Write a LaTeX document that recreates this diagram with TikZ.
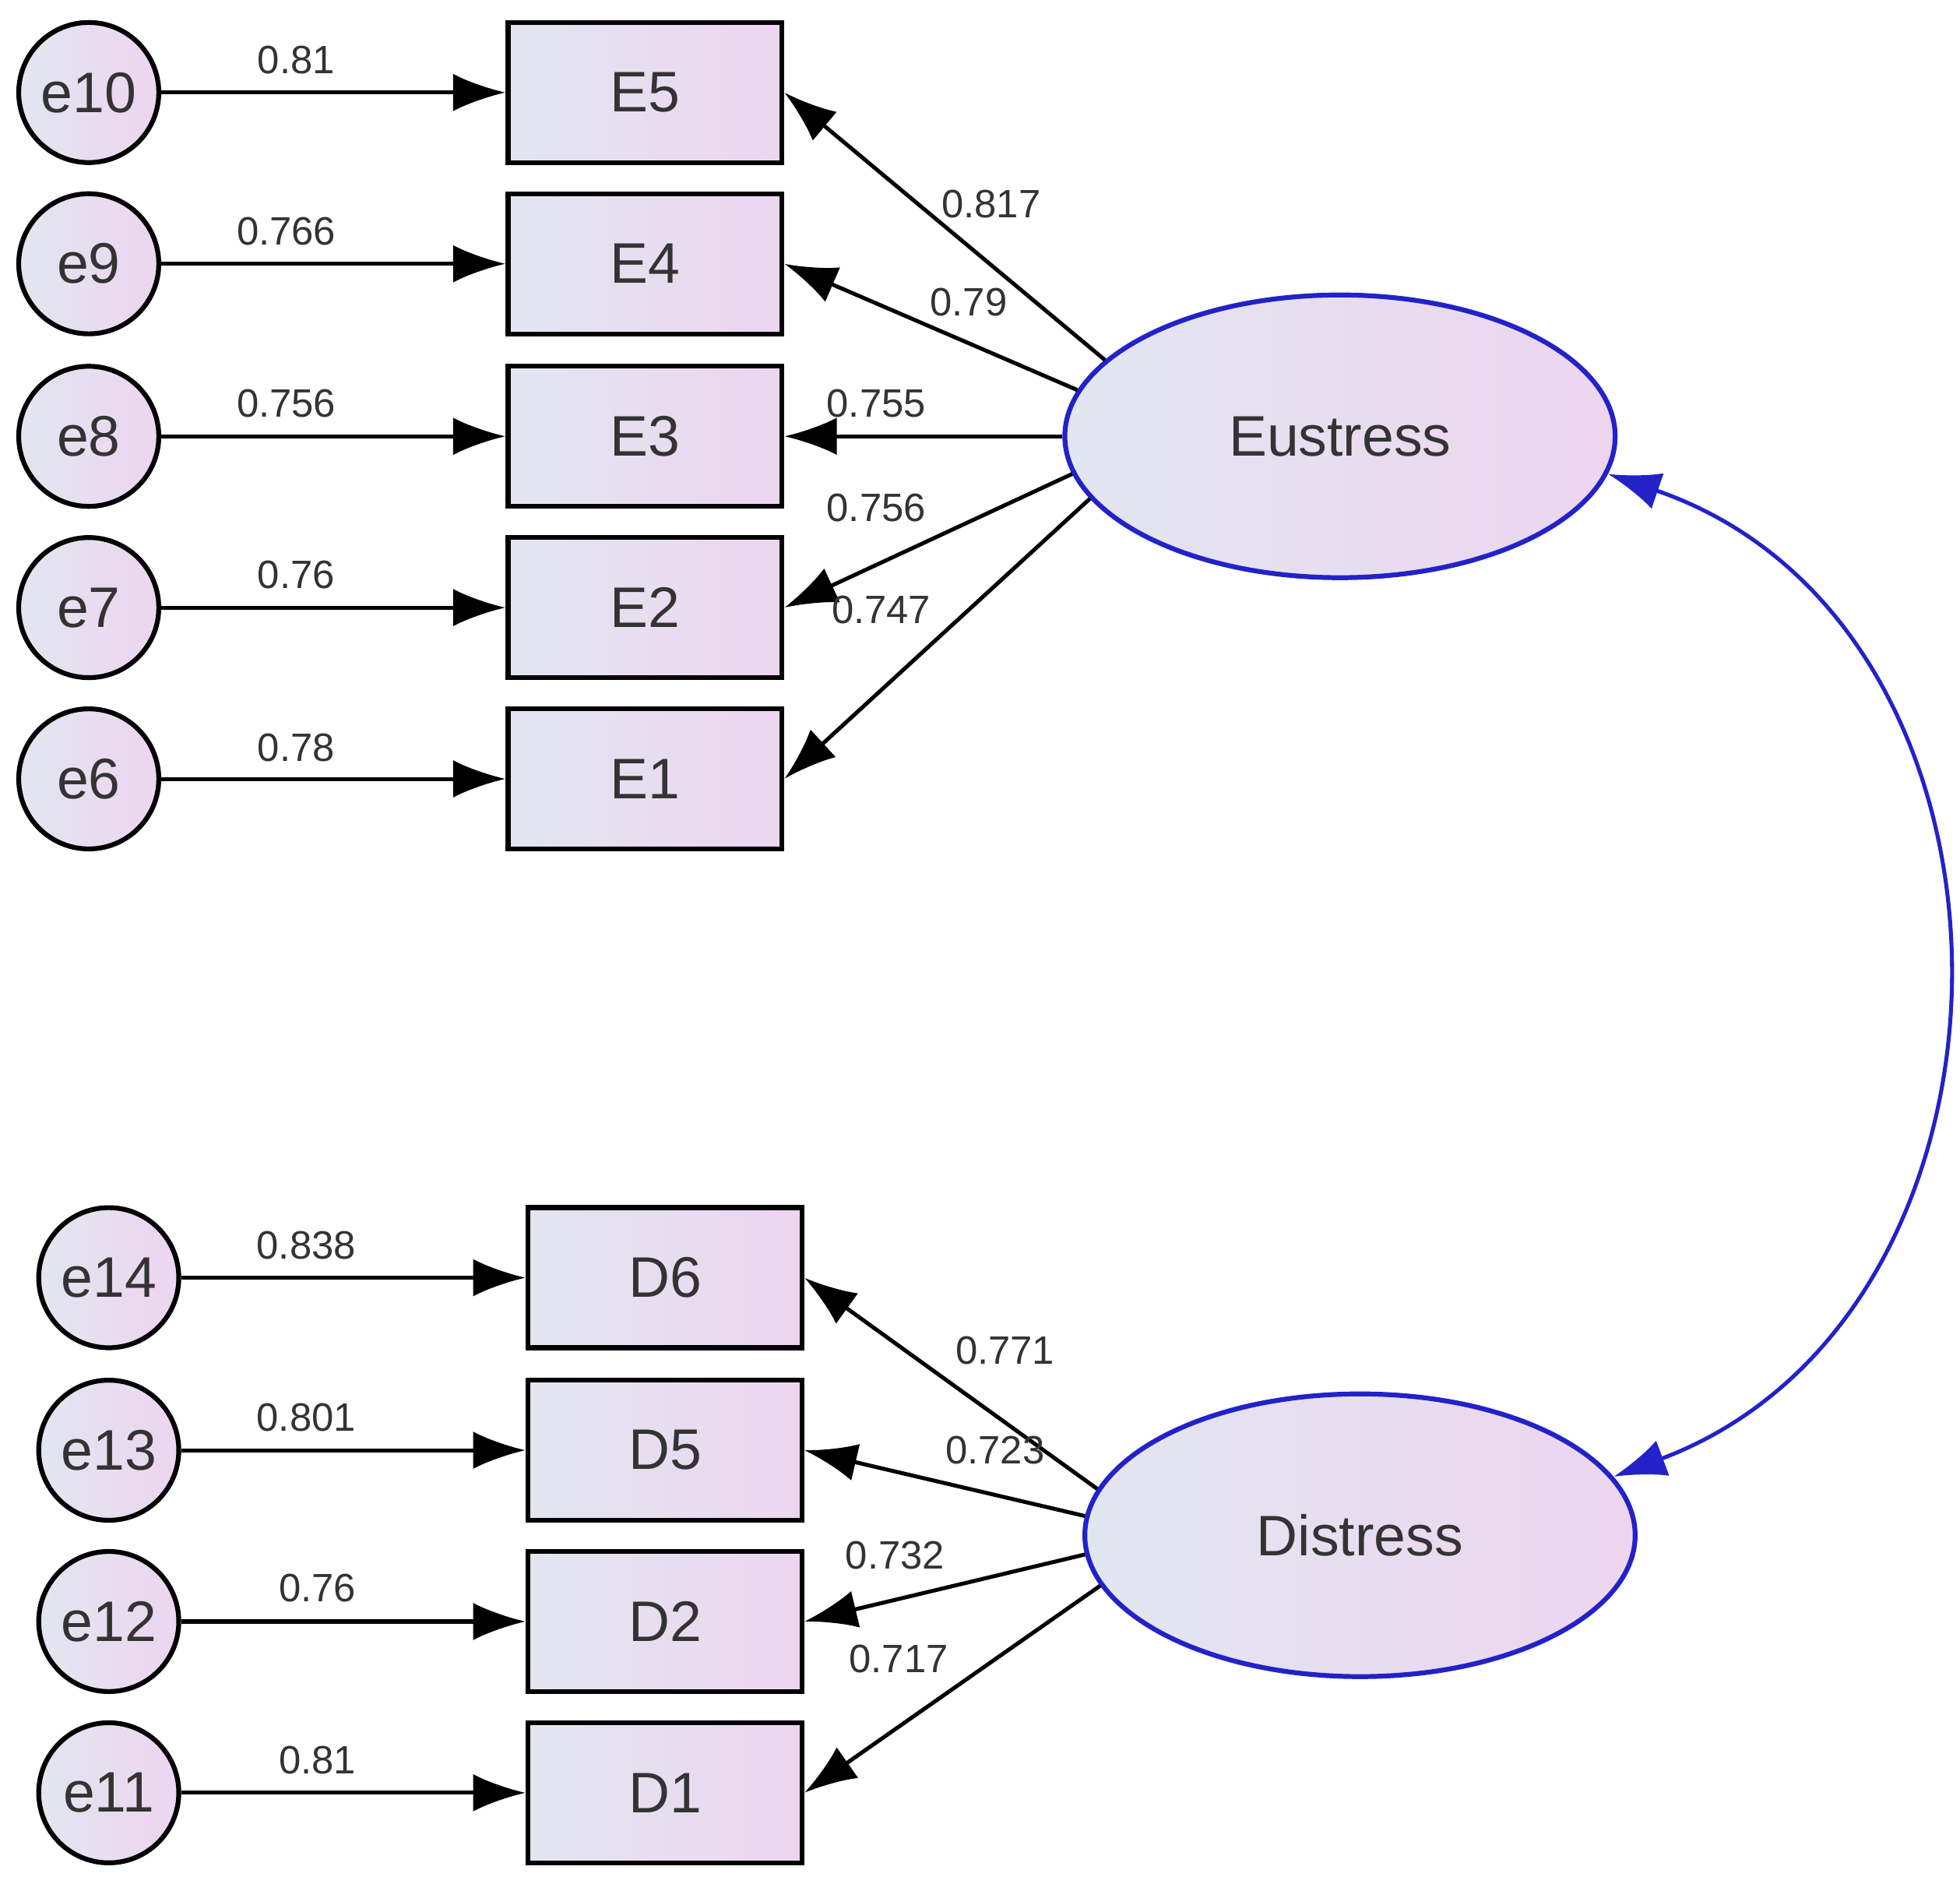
\documentclass[tikz,border=0pt]{standalone}
\usepackage{fontspec}
\setmainfont{Liberation Sans}
\usetikzlibrary{arrows.meta, shapes.geometric}
\definecolor{fillL}{HTML}{E2E6F0}
\definecolor{fillR}{HTML}{EDD5F0}
\definecolor{latblue}{HTML}{2222C8}
\begin{document}
\begin{tikzpicture}[x=0.01cm, y=-0.01cm,
    obs/.style={draw, line width=1.1pt, minimum width=2.19cm, minimum height=1.12cm,
        left color=fillL, right color=fillR, font=\fontsize{13}{15}\selectfont, text=black!80},
    err/.style={circle, draw, line width=1.1pt, minimum size=1.12cm, inner sep=0pt,
        left color=fillL, right color=fillR, font=\fontsize{13}{15}\selectfont, text=black!80},
    lat/.style={ellipse, draw=latblue, line width=1.1pt, minimum width=4.4cm, minimum height=2.26cm,
        left color=fillL, right color=fillR, font=\fontsize{13}{15}\selectfont, text=black!80},
    path/.style={draw, line width=0.9pt, -{Latex[length=0.42cm,width=0.3cm]}},
    lbl/.style={font=\fontsize{9}{11}\selectfont, text=black!80, inner sep=1pt}
]
\useasboundingbox (0,0) rectangle (1568,1512);

% Eustress block
\node[lat] (eu) at (1072,349) {Eustress};
\foreach \n/\y in {5/74,4/211,3/349,2/486,1/623}{
  \node[obs] (E\n) at (516,\y) {E\n};
}
\foreach \e/\y in {10/74,9/211,8/349,7/486,6/623}{
  \node[err] (e\e) at (71,\y) {e\e};
}
\path[path] (e10) -- (E5);
\path[path] (e9) -- (E4);
\path[path] (e8) -- (E3);
\path[path] (e7) -- (E2);
\path[path] (e6) -- (E1);
\path[path] (eu.162) -- (E5.east);
\path[path] (eu.170) -- (E4.east);
\path[path] (eu.180) -- (E3.east);
\path[path] (eu.188) -- (E2.east);
\path[path] (eu.194) -- (E1.east);
\node[lbl] (l1) at (237,48) {0.81};
\node[lbl] (l2) at (229,185) {0.766};
\node[lbl] (l3) at (229,323) {0.756};
\node[lbl] (l4) at (237,460) {0.76};
\node[lbl] (l5) at (237,598) {0.78};
\node[lbl] (l6) at (793,163) {0.817};
\node[lbl] (l7) at (775,242) {0.79};
\node[lbl] (l8) at (701,323) {0.755};
\node[lbl] (l9) at (701,406) {0.756};
\node[lbl] (l10) at (705,488) {0.747};

% Distress block
\node[lat] (di) at (1088,1228) {Distress};
\foreach \n/\y in {6/1022,5/1160,2/1297,1/1434}{
  \node[obs] (D\n) at (532,\y) {D\n};
}
\foreach \e/\y in {14/1022,13/1160,12/1297,11/1434}{
  \node[err] (e\e) at (87,\y) {e\e};
}
\path[path] (e14) -- (D6);
\path[path] (e13) -- (D5);
\path[path] (e12) -- (D2);
\path[path] (e11) -- (D1);
\path[path] (di.170) -- (D6.east);
\path[path] (di.176) -- (D5.east);
\path[path] (di.184) -- (D2.east);
\path[path] (di.191) -- (D1.east);
\node[lbl] (m1) at (245,996) {0.838};
\node[lbl] (m2) at (245,1134) {0.801};
\node[lbl] (m3) at (254,1270) {0.76};
\node[lbl] (m4) at (254,1408) {0.81};
\node[lbl] (m5) at (804,1080) {0.771};
\node[lbl] (m6) at (796,1160) {0.723};
\node[lbl] (m7) at (716,1244) {0.732};
\node[lbl] (m8) at (719,1327) {0.717};

% covariance
\draw[latblue, line width=0.9pt, {Latex[length=0.42cm,width=0.3cm]}-{Latex[length=0.42cm,width=0.3cm]}]
  (eu.-8) .. controls (1640,500) and (1640,1050) .. (di.13);
\end{tikzpicture}
\end{document}
